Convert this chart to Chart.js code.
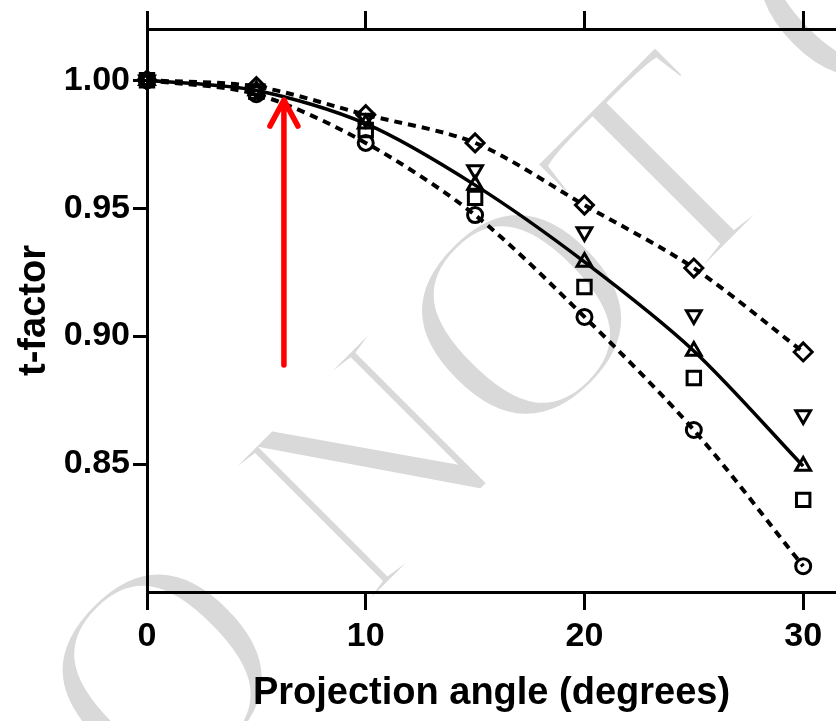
<!DOCTYPE html>
<html>
<head>
<meta charset="utf-8">
<script src="https://cdn.jsdelivr.net/npm/chart.js@4"></script>
<style>
  html, body { margin: 0; padding: 0; background: #fff; }
</style>
</head>
<body>
<canvas id="tChart" width="836" height="721"></canvas>
<script>
// projection angle (degrees) and t-factor
const angles = [0, 5, 10, 15, 20, 25, 30];
const diamondVals = [1.000, 0.9975, 0.9865, 0.9755, 0.9512, 0.9266, 0.8938];
const downTriVals = [1.000, 0.9965, 0.9850, 0.9649, 0.9407, 0.9082, 0.8692];
const upTriVals   = [1.000, 0.9960, 0.9830, 0.9590, 0.9290, 0.8942, 0.8492];
const squareVals  = [1.000, 0.9955, 0.9805, 0.9540, 0.9192, 0.8836, 0.8360];
const circleVals  = [1.000, 0.9945, 0.9755, 0.9473, 0.9075, 0.8633, 0.8101];
const xTicks = [0, 10, 20, 30];
const yTicks = [0.85, 0.90, 0.95, 1.00];
// red arrow: angle, tail value, tip value
const arrowAt = [6.26, 0.8887, 0.993];

const FONT = '"Liberation Sans", Arial, Helvetica, sans-serif';

function pts(vals) {
  return angles.map((a, i) => ({ x: a, y: vals[i] }));
}

const watermark = {
  id: 'watermark',
  beforeDraw(chart) {
    const ctx = chart.ctx;
    ctx.save();
    ctx.fillStyle = '#fff';
    ctx.fillRect(0, 0, chart.width, chart.height);
    ctx.translate(2, 973);
    ctx.rotate(-45 * Math.PI / 180);
    ctx.font = '300px "Liberation Serif", "Times New Roman", serif';
    ctx.textBaseline = 'alphabetic';
    ctx.fillStyle = '#d9d9d9';
    ctx.fillText('DO NOT COPY', 0, 0);
    // thin the strokes a bit
    ctx.strokeStyle = '#fff';
    ctx.lineWidth = 9;
    ctx.strokeText('DO NOT COPY', 0, 0);
    ctx.restore();
  }
};

const redArrow = {
  id: 'redArrow',
  afterDatasetsDraw(chart) {
    const { ctx, scales } = chart;
    const x = scales.x.getPixelForValue(arrowAt[0]);
    const y0 = scales.y.getPixelForValue(arrowAt[1]);
    const y1 = scales.y.getPixelForValue(arrowAt[2]);
    ctx.save();
    ctx.strokeStyle = '#ff0000';
    ctx.lineWidth = 5.5;
    ctx.lineCap = 'round';
    ctx.lineJoin = 'round';
    ctx.beginPath();
    ctx.moveTo(x, y0);
    ctx.lineTo(x, y1 + 2);
    ctx.moveTo(x - 14, y1 + 28);
    ctx.lineTo(x, y1 + 2);
    ctx.lineTo(x + 14, y1 + 28);
    ctx.stroke();
    ctx.restore();
  }
};

const axisLine = { display: true, color: '#000', width: 3 };
const tickGrid = { drawOnChartArea: false, color: '#000', lineWidth: 3, tickLength: 18 };
const noSidePad = s => { s.paddingLeft = 0; s.paddingRight = 0; };

new Chart(document.getElementById('tChart'), {
  type: 'scatter',
  data: {
    datasets: [
      { data: pts(diamondVals), pointStyle: 'rectRot', pointRadius: 9, showLine: true,
        borderDash: [8, 6], borderWidth: 4, tension: 0.3 },
      { data: pts(downTriVals), pointStyle: 'triangle', pointRotation: 180, pointRadius: 8.5, showLine: false },
      { data: pts(upTriVals), pointStyle: 'triangle', pointRadius: 8.5, showLine: true,
        borderWidth: 3.5, tension: 0.3 },
      { data: pts(squareVals), pointStyle: 'rect', pointRadius: 9.5, showLine: false },
      { data: pts(circleVals), pointStyle: 'circle', pointRadius: 7.5, showLine: true,
        borderDash: [8, 6], borderWidth: 4, tension: 0.3 }
    ].map(d => Object.assign({
      borderColor: '#000',
      backgroundColor: 'rgba(255,255,255,0)',
      pointBorderColor: '#000',
      pointBackgroundColor: 'rgba(255,255,255,0)',
      pointBorderWidth: 3,
      pointHoverRadius: d.pointRadius,
      clip: false
    }, d))
  },
  options: {
    responsive: false,
    animation: false,
    layout: { padding: 0, autoPadding: false },
    plugins: { legend: { display: false }, tooltip: { enabled: false } },
    scales: {
      x: {
        type: 'linear', position: 'bottom', min: 0, max: 31.5,
        afterBuildTicks: s => { s.ticks = xTicks.map(v => ({ value: v })); },
        afterFit: s => { s.height = 129; noSidePad(s); },
        border: axisLine,
        grid: tickGrid,
        ticks: { color: '#000', padding: 6, font: { family: FONT, size: 34, weight: 'bold' } },
        title: { display: true, text: 'Projection angle (degrees)', color: '#000',
          padding: { top: 0, bottom: 5 }, font: { family: FONT, size: 38, weight: 'bold' } }
      },
      x2: {
        type: 'linear', position: 'top', min: 0, max: 31.5,
        afterBuildTicks: s => { s.ticks = xTicks.map(v => ({ value: v })); },
        afterFit: s => { s.height = 29; noSidePad(s); },
        border: axisLine,
        grid: tickGrid,
        ticks: { display: false }
      },
      y: {
        type: 'linear', position: 'left', min: 0.80, max: 1.02,
        afterBuildTicks: s => { s.ticks = yTicks.map(v => ({ value: v })); },
        afterFit: s => { s.width = 147; },
        border: axisLine,
        grid: Object.assign({}, tickGrid, { tickLength: 14 }),
        ticks: { color: '#000', padding: 3, callback: v => v.toFixed(2),
          font: { family: FONT, size: 34, weight: 'bold' } },
        title: { display: true, text: 't-factor', color: '#000',
          padding: { top: 12, bottom: 0 }, font: { family: FONT, size: 38, weight: 'bold' } }
      }
    }
  },
  plugins: [watermark, redArrow]
});
</script>
</body>
</html>
